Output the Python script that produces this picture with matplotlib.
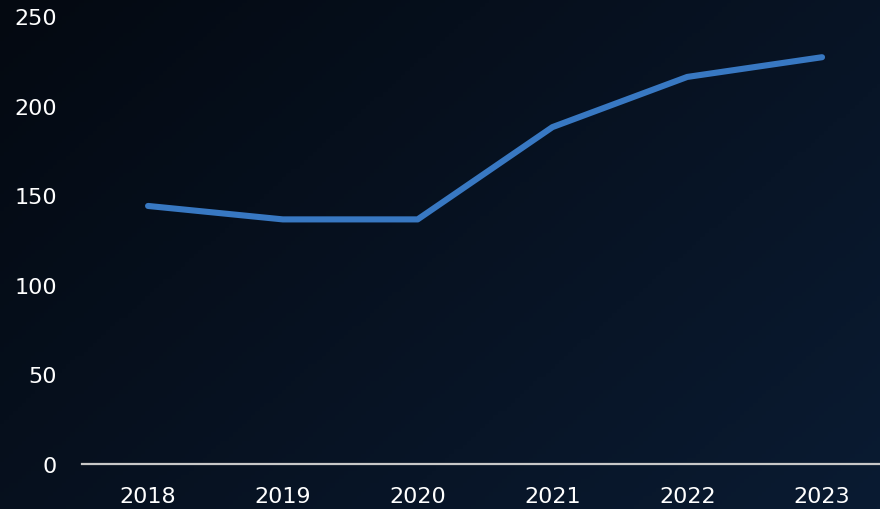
import numpy as np
import matplotlib.pyplot as plt

# data
years = ["2018", "2019", "2020", "2021", "2022", "2023"]
values = [144, 136.5, 136.5, 188, 216, 227]
yticks = [0, 50, 100, 150, 200, 250]

W, H = 880, 510
fig = plt.figure(figsize=(W / 100, H / 100), dpi=100)

# gradient background
bg = fig.add_axes([0, 0, 1, 1])
bg.set_axis_off()
gx, gy = np.meshgrid(np.linspace(0, 1, 200), np.linspace(0, 1, 120))
t = (gx * 0.6 + gy * 0.4)
c0 = np.array([4, 9, 17]) / 255
c1 = np.array([10, 27, 50]) / 255
img = c0[None, None, :] * (1 - t[..., None]) + c1[None, None, :] * t[..., None]
bg.imshow(img, extent=[0, 1, 0, 1], origin="upper", aspect="auto")
bg.set_xlim(0, 1)
bg.set_ylim(0, 1)

ax = fig.add_axes([82 / W, 45 / H, 1 - 82 / W, (465 - 17) / H])
ax.patch.set_alpha(0)
x = np.arange(len(years))
ax.plot(x, values, color="#3878c2", lw=4.4, solid_capstyle="round", solid_joinstyle="round")

ax.set_xlim(-0.49, 5.43)
ax.set_ylim(0, 250)
ax.set_xticks(x, years)
ax.set_yticks(yticks)
for s in ["top", "right", "left"]:
    ax.spines[s].set_visible(False)
ax.spines["bottom"].set_color("#c8c8c8")
ax.spines["bottom"].set_linewidth(1.6)
ax.tick_params(axis="both", length=0, colors="white", labelsize=16)
ax.tick_params(axis="y", pad=18)
ax.tick_params(axis="x", pad=16)

fig.savefig("out.png", dpi=100)
